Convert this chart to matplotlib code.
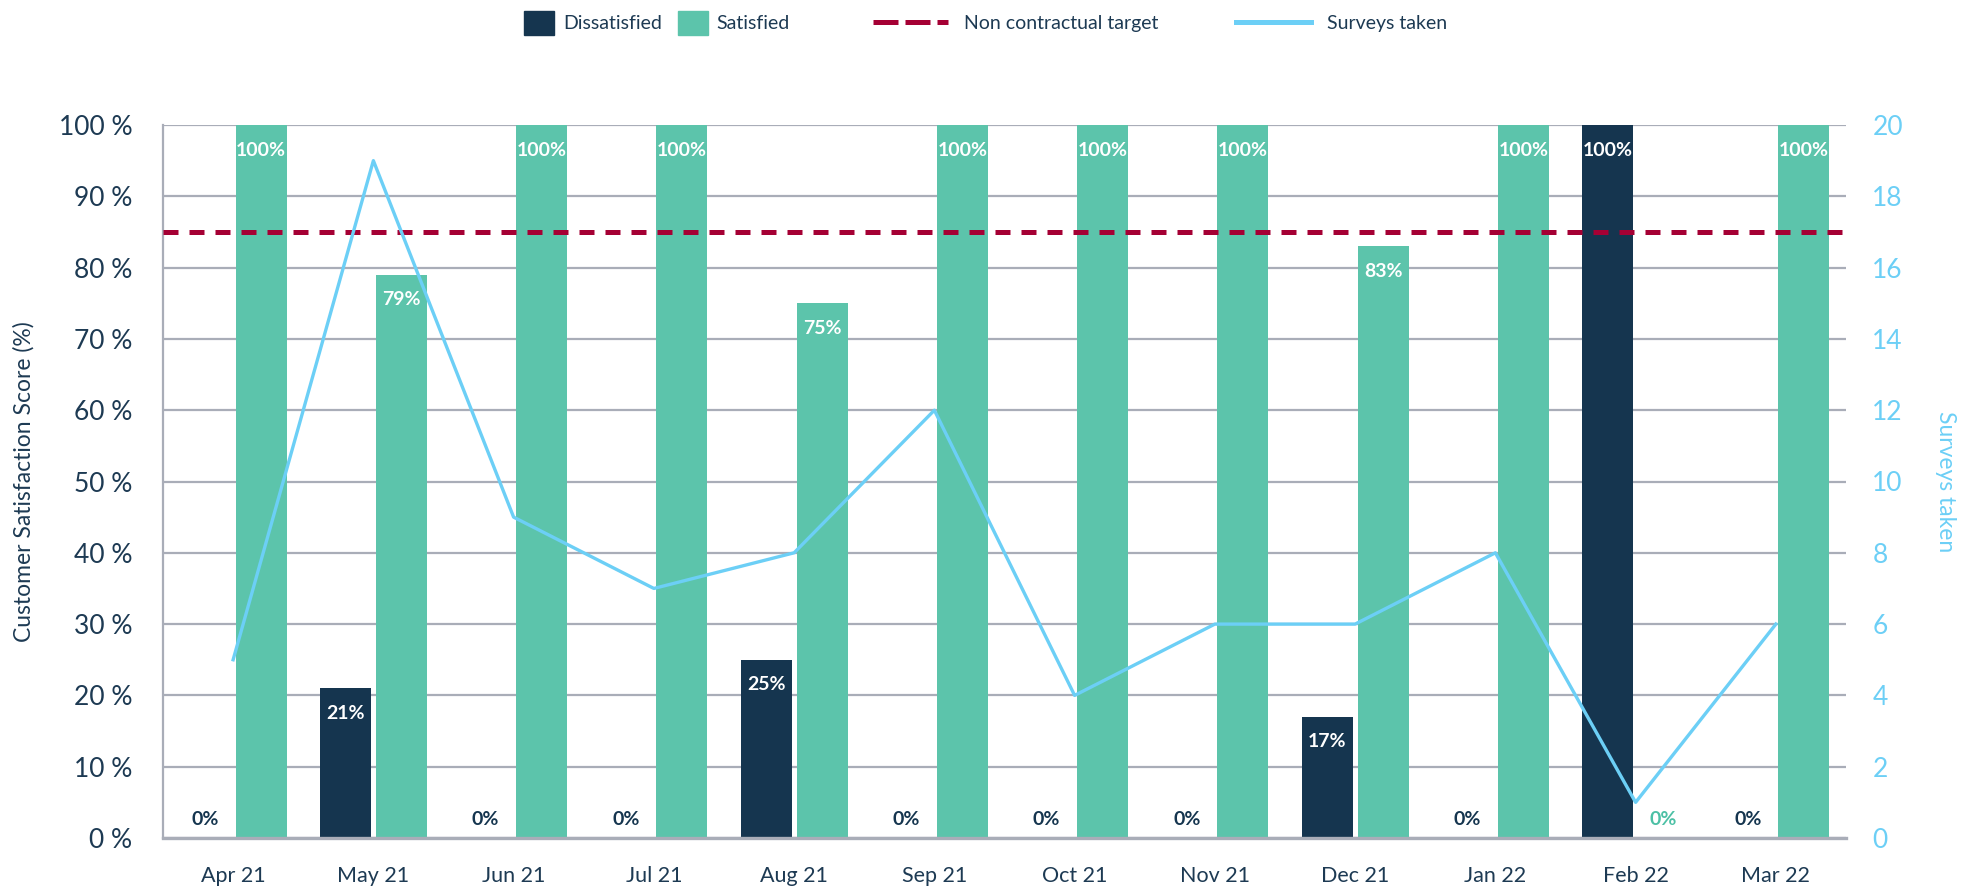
import matplotlib
matplotlib.use("Agg")
import matplotlib.pyplot as plt
import numpy as np
from matplotlib.patches import Patch
from matplotlib.lines import Line2D

plt.rcParams['font.family'] = ['Lato', 'DejaVu Sans']

months = ["Apr 21", "May 21", "Jun 21", "Jul 21", "Aug 21", "Sep 21",
          "Oct 21", "Nov 21", "Dec 21", "Jan 22", "Feb 22", "Mar 22"]
dissatisfied = [0, 21, 0, 0, 25, 0, 0, 0, 17, 0, 100, 0]
satisfied = [100, 79, 100, 100, 75, 100, 100, 100, 83, 100, 0, 100]
surveys = [5, 19, 9, 7, 8, 12, 4, 6, 6, 8, 1, 6]
target = 85
left_ticks = [0, 10, 20, 30, 40, 50, 60, 70, 80, 90, 100]
right_ticks = [0, 2, 4, 6, 8, 10, 12, 14, 16, 18, 20]

C_DIS = "#15354f"
C_SAT = "#5cc4ab"
C_TGT = "#a50034"
C_LINE = "#6ccff6"
C_TXT = "#1d3a53"
C_GRID = "#a9adb8"

fig = plt.figure(figsize=(19.75, 8.91), dpi=100)
ax = fig.add_axes([163/1975, 53/891, 1683/1975, 713/891])
ax2 = ax.twinx()

x = np.arange(len(months))
w = 0.364
off = w/2 + 0.018

ax.bar(x - off, dissatisfied, w, color=C_DIS, zorder=2)
ax.bar(x + off, satisfied, w, color=C_SAT, zorder=2)
ax.axhline(target, color=C_TGT, lw=3.6, dashes=(3, 2.2), zorder=4)

for xi, v in zip(x - off, dissatisfied):
    if v == 0:
        ax.annotate("0%", (xi, 0), xytext=(0, 13), textcoords="offset points",
                    ha="center", va="center", fontsize=14, fontweight="bold", color=C_DIS, zorder=6)
    else:
        ax.annotate(f"{v}%", (xi, v), xytext=(0, -18), textcoords="offset points",
                    ha="center", va="center", fontsize=14, fontweight="bold", color="white", zorder=6)
for xi, v in zip(x + off, satisfied):
    if v == 0:
        ax.annotate("0%", (xi, 0), xytext=(0, 13), textcoords="offset points",
                    ha="center", va="center", fontsize=14, fontweight="bold", color="#4cc0a5", zorder=6)
    else:
        ax.annotate(f"{v}%", (xi, v), xytext=(0, -18), textcoords="offset points",
                    ha="center", va="center", fontsize=14, fontweight="bold", color="white", zorder=6)

ax2.plot(x, surveys, color=C_LINE, lw=2.4, zorder=5)

ax.set_xlim(-0.5, len(months) - 0.5)
ax.set_ylim(0, 100)
ax2.set_ylim(0, 20)
ax.set_xticks(x)
ax.set_xticklabels(months)
ax.set_yticks(left_ticks)
ax.set_yticklabels([f"{t} %" for t in left_ticks])
ax2.set_yticks(right_ticks)

ax.tick_params(axis="y", length=0, pad=22, labelsize=19, labelcolor=C_TXT)
ax.tick_params(axis="x", length=0, pad=20, labelsize=15.5, labelcolor=C_TXT)
ax2.tick_params(axis="y", length=0, pad=19, labelsize=19, labelcolor=C_LINE)

ax.yaxis.grid(True, color=C_GRID, lw=1.6, zorder=0)
ax.set_axisbelow(True)
for s in ["top", "right"]:
    ax.spines[s].set_visible(False)
for s in ["top", "right", "left", "bottom"]:
    ax2.spines[s].set_visible(False)
ax.spines["left"].set_color(C_GRID)
ax.spines["left"].set_linewidth(1.6)
ax.spines["bottom"].set_color(C_GRID)
ax.spines["bottom"].set_linewidth(2.4)

ax.set_ylabel("Customer Satisfaction Score (%)", fontsize=16.5, color=C_TXT, va="center")
ax.yaxis.set_label_coords(-0.0826, 0.5)
ax2.set_ylabel("Surveys taken", fontsize=16.5, color=C_LINE, rotation=270, va="center")
ax2.yaxis.set_label_coords(1.059, 0.5)

h1 = [Patch(color=C_DIS), Patch(color=C_SAT)]
fig.legend(h1, ["Dissatisfied", "Satisfied"], loc="center", ncol=2,
           bbox_to_anchor=(657/1975, 1 - 23/891), frameon=False, fontsize=14,
           handlelength=1.54, handleheight=1.6, handletextpad=0.46, columnspacing=0.82,
           labelcolor=C_TXT)
h2 = [Line2D([], [], color=C_TGT, lw=3.6, dashes=(5, 1.4)),
      Line2D([], [], color=C_LINE, lw=3.6)]
fig.legend(h2, ["Non contractual target", "Surveys taken"], loc="center", ncol=2,
           bbox_to_anchor=(1160/1975, 1 - 23/891), frameon=False, fontsize=14,
           handlelength=3.9, handletextpad=0.82, columnspacing=3.95,
           labelcolor=C_TXT)

fig.savefig("out.png", dpi=100, facecolor="white")
